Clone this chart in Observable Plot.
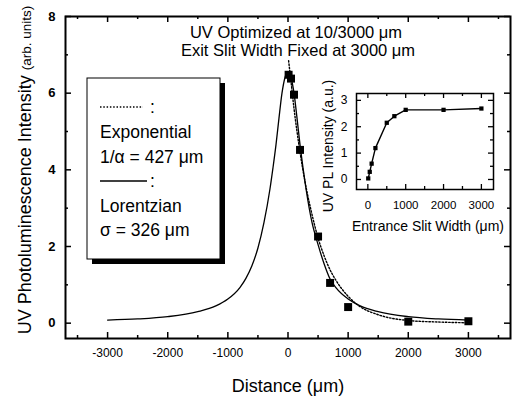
<!DOCTYPE html>
<html>
<head>
<meta charset="utf-8">
<script src="https://cdn.jsdelivr.net/npm/d3@7"></script>
<script src="https://cdn.jsdelivr.net/npm/@observablehq/plot@0.6"></script>
<style>
  body { margin: 0; background: #fff; }
  #wrap { position: relative; width: 512px; height: 403px; font-family: "Liberation Sans", Arial, sans-serif; }
  #wrap svg { position: absolute; overflow: visible; }
</style>
</head>
<body>
<div id="wrap"></div>
<script>
// ---- data ----
const distance = [10, 50, 100, 200, 500, 700, 1000, 2000, 3000];
const measured = [6.48, 6.38, 5.96, 4.52, 2.26, 1.05, 0.42, 0.04, 0.05];

const lorentzX = [-3000, -2500, -2000, -1500, -1200, -1000, -800, -700, -600, -500, -400, -300, -250, -200, -150, -100, -50, 0, 50, 100, 150, 200, 250, 300, 400, 500, 600, 700, 800, 1000, 1200, 1500, 2000, 2500, 3000];
const lorentzY = [0.08, 0.11, 0.17, 0.30, 0.45, 0.63, 0.93, 1.17, 1.50, 1.96, 2.62, 3.50, 4.05, 4.65, 5.35, 6.00, 6.41, 6.56, 6.41, 6.00, 5.35, 4.65, 4.05, 3.50, 2.62, 2.05, 1.55, 1.15, 0.92, 0.63, 0.45, 0.30, 0.17, 0.11, 0.08];

const expX = [10, 50, 100, 200, 300, 400, 500, 600, 700, 800, 1000, 1200, 1500, 2000, 2500, 3000];
const expY = [6.85, 6.30, 5.60, 4.46, 3.55, 2.83, 2.22, 1.76, 1.39, 1.11, 0.70, 0.43, 0.22, 0.07, 0.03, 0.01];

const slitWidth = [10, 50, 100, 200, 500, 700, 1000, 2000, 3000];
const plIntensity = [0.04, 0.29, 0.60, 1.19, 2.15, 2.40, 2.64, 2.64, 2.69];

const xMajor = [-3000, -2000, -1000, 0, 1000, 2000, 3000];
const xMinor = [-3500, -2500, -1500, -500, 500, 1500, 2500, 3500];
const yMajor = [0, 2, 4, 6, 8];
const yMinor = [1, 3, 5, 7];

const insetXMajor = [0, 1000, 2000, 3000];
const insetXMinor = [500, 1500, 2500];
const insetYMajor = [0, 1, 2, 3];
const insetYMinor = [0.5, 1.5, 2.5];

// ---- main chart ----
const FONT = "Liberation Sans, Arial, sans-serif";
const W = 512, H = 403, mL = 65, mR = 2, mT = 16, mB = 65;
const iW = W - mL - mR, iH = H - mT - mB;

const lorentz = lorentzX.map((x, i) => ({x, y: lorentzY[i]}));
const expo = expX.map((x, i) => ({x, y: expY[i]}));
const pts = distance.map((x, i) => ({x, y: measured[i]}));

const main = Plot.plot({
  width: W, height: H,
  marginLeft: mL, marginRight: mR, marginTop: mT, marginBottom: mB,
  style: {fontFamily: FONT, color: "black", background: "transparent"},
  x: {domain: [-3700, 3700]},
  y: {domain: [-0.4, 8]},
  marks: [
    Plot.axisX(xMajor, {tickSize: 0, tickPadding: 9.5, tickFormat: d => String(d), fontSize: 12, label: null}),
    Plot.axisY(yMajor, {tickSize: 0, tickPadding: 10, tickFormat: d => String(d), fontSize: 13, fontWeight: "bold", label: null}),
    Plot.ruleX(xMajor, {insetTop: iH - 6, strokeWidth: 1.5}),
    Plot.ruleX(xMajor, {insetBottom: iH - 6, strokeWidth: 1.5}),
    Plot.ruleX(xMinor, {insetTop: iH - 3, strokeWidth: 1.5}),
    Plot.ruleX(xMinor, {insetBottom: iH - 3, strokeWidth: 1.5}),
    Plot.ruleY(yMajor, {insetRight: iW - 6, strokeWidth: 1.5}),
    Plot.ruleY(yMajor, {insetLeft: iW - 6, strokeWidth: 1.5}),
    Plot.ruleY(yMinor, {insetRight: iW - 3, strokeWidth: 1.5}),
    Plot.ruleY(yMinor, {insetLeft: iW - 3, strokeWidth: 1.5}),
    Plot.line(expo, {x: "x", y: "y", curve: "monotone-x", stroke: "black", strokeWidth: 1.4, strokeDasharray: "1.5,1.8"}),
    Plot.line(lorentz, {x: "x", y: "y", curve: "monotone-x", stroke: "black", strokeWidth: 1.3}),
    Plot.dot(pts, {x: "x", y: "y", symbol: "square", r: 4.5, fill: "black", stroke: null}),
    Plot.frame({stroke: "black", strokeWidth: 2})
  ]
});
main.style.left = "0px"; main.style.top = "0px";
document.getElementById("wrap").appendChild(main);

const s = d3.select(main);
// axis titles
const yl = s.append("text").attr("transform", "translate(31,170) rotate(-90)")
  .attr("text-anchor", "middle").attr("font-family", FONT).attr("fill", "black");
yl.append("tspan").attr("font-size", 18).text("UV Photoluminescence Intensity ");
yl.append("tspan").attr("font-size", 13.5).text("(arb. units)");
s.append("text").attr("x", 288).attr("y", 392).attr("text-anchor", "middle")
  .attr("font-family", FONT).attr("font-size", 18).text("Distance (μm)");
// title inside plot
s.append("text").attr("x", 296).attr("y", 38).attr("text-anchor", "middle")
  .attr("font-family", FONT).attr("font-size", 16.5).text("UV Optimized at 10/3000 μm");
s.append("text").attr("x", 298).attr("y", 56).attr("text-anchor", "middle")
  .attr("font-family", FONT).attr("font-size", 16.5).text("Exit Slit Width Fixed at 3000 μm");
// legend box with drop shadow
s.append("rect").attr("x", 92).attr("y", 83).attr("width", 133).attr("height", 181).attr("fill", "black");
s.append("rect").attr("x", 87).attr("y", 78).attr("width", 133).attr("height", 181)
  .attr("fill", "white").attr("stroke", "black").attr("stroke-width", 1);
s.append("line").attr("x1", 100).attr("x2", 143).attr("y1", 107).attr("y2", 107)
  .attr("stroke", "black").attr("stroke-width", 1.4).attr("stroke-dasharray", "1.5,1.8");
s.append("line").attr("x1", 100).attr("x2", 147).attr("y1", 181).attr("y2", 181)
  .attr("stroke", "black").attr("stroke-width", 1.5);
const leg = [
  [150, 113, ":"], [100, 138, "Exponential"], [100, 163, "1/α = 427 μm"],
  [150, 187, ":"], [100, 212, "Lorentzian"], [100, 236, "σ = 326 μm"]
];
leg.forEach(([x, y, t]) => s.append("text").attr("x", x).attr("y", y)
  .attr("text-anchor", "start")
  .attr("font-family", FONT).attr("font-size", 17.5).text(t));

// ---- inset chart ----
const IW = 190, IH = 170, imL = 38, imR = 15, imT = 23, imB = 51;
const iiW = IW - imL - imR, iiH = IH - imT - imB;
const inset = Plot.plot({
  width: IW, height: IH,
  marginLeft: imL, marginRight: imR, marginTop: imT, marginBottom: imB,
  style: {fontFamily: FONT, color: "black", background: "transparent"},
  x: {domain: [-300, 3320]},
  y: {domain: [-0.38, 3.26]},
  marks: [
    Plot.axisX(insetXMajor, {tickSize: 0, tickPadding: 11, tickFormat: d => String(d), fontSize: 11.5, label: null}),
    Plot.axisY(insetYMajor, {tickSize: 0, tickPadding: 9, tickFormat: d => String(d), fontSize: 12, label: null}),
    Plot.ruleX(insetXMajor, {insetTop: iiH - 5, strokeWidth: 1.3}),
    Plot.ruleX(insetXMajor, {insetBottom: iiH - 5, strokeWidth: 1.3}),
    Plot.ruleX(insetXMinor, {insetTop: iiH - 3, strokeWidth: 1.3}),
    Plot.ruleX(insetXMinor, {insetBottom: iiH - 3, strokeWidth: 1.3}),
    Plot.ruleY(insetYMajor, {insetRight: iiW - 5, strokeWidth: 1.3}),
    Plot.ruleY(insetYMajor, {insetLeft: iiW - 5, strokeWidth: 1.3}),
    Plot.ruleY(insetYMinor, {insetRight: iiW - 3, strokeWidth: 1.3}),
    Plot.ruleY(insetYMinor, {insetLeft: iiW - 3, strokeWidth: 1.3}),
    Plot.line(slitWidth, {x: d => d, y: (d, i) => plIntensity[i], stroke: "black", strokeWidth: 1.4}),
    Plot.dot(slitWidth, {x: d => d, y: (d, i) => plIntensity[i], symbol: "square", r: 2.4, fill: "black", stroke: null}),
    Plot.frame({stroke: "black", strokeWidth: 1.5})
  ]
});
inset.style.left = "318px"; inset.style.top = "70px";
document.getElementById("wrap").appendChild(inset);
const si = d3.select(inset);
si.append("text").attr("transform", "translate(15,76) rotate(-90)").attr("text-anchor", "middle")
  .attr("font-family", FONT).attr("font-size", 14).text("UV PL Intensity (a.u.)");
si.append("text").attr("x", 110).attr("y", 161).attr("text-anchor", "middle")
  .attr("font-family", FONT).attr("font-size", 14).text("Entrance Slit Width (μm)");
</script>
</body>
</html>
